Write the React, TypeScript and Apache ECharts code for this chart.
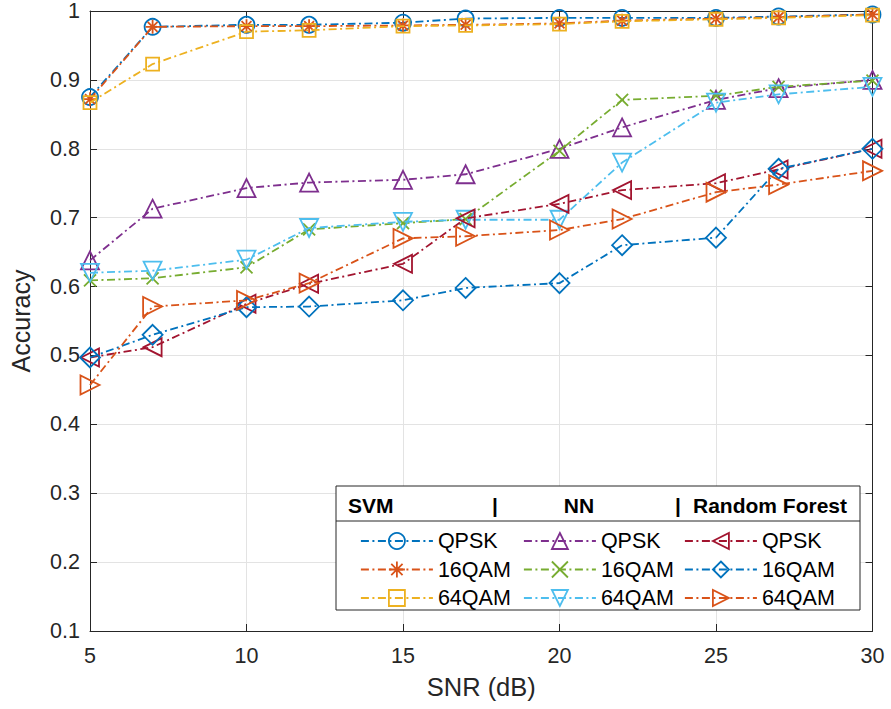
import React, { useEffect, useRef } from 'react';
import * as echarts from 'echarts';

// ---------------- data ----------------
const snr = [5, 7, 10, 12, 15, 17, 20, 22, 25, 27, 30];
const methods = ['SVM', 'NN', 'Random Forest'];
const modulations = ['QPSK', '16QAM', '64QAM'];
const yTicks = [0.1, 0.2, 0.3, 0.4, 0.5, 0.6, 0.7, 0.8, 0.9, 1];
const yTickLabels = ['0.1', '0.2', '0.3', '0.4', '0.5', '0.6', '0.7', '0.8', '0.9', '1'];

const svmQpsk = [0.875, 0.977, 0.98, 0.98, 0.983, 0.989, 0.99, 0.99, 0.99, 0.992, 0.995];
const svm16qam = [0.872, 0.977, 0.978, 0.978, 0.979, 0.98, 0.982, 0.986, 0.989, 0.991, 0.995];
const svm64qam = [0.867, 0.923, 0.97, 0.972, 0.978, 0.979, 0.981, 0.985, 0.988, 0.99, 0.994];
const nnQpsk = [0.638, 0.713, 0.743, 0.751, 0.755, 0.763, 0.8, 0.831, 0.871, 0.888, 0.9];
const nn16qam = [0.609, 0.612, 0.628, 0.683, 0.692, 0.698, 0.797, 0.871, 0.877, 0.89, 0.899];
const nn64qam = [0.62, 0.623, 0.639, 0.685, 0.694, 0.697, 0.697, 0.78, 0.867, 0.879, 0.89];
const rfQpsk = [0.497, 0.512, 0.575, 0.604, 0.633, 0.699, 0.72, 0.74, 0.75, 0.77, 0.8];
const rf16qam = [0.497, 0.53, 0.57, 0.571, 0.58, 0.598, 0.605, 0.66, 0.671, 0.771, 0.8];
const rf64qam = [0.457, 0.571, 0.58, 0.605, 0.67, 0.673, 0.682, 0.698, 0.737, 0.748, 0.768];

const seriesValues = [
  [svmQpsk, svm16qam, svm64qam],
  [nnQpsk, nn16qam, nn64qam],
  [rfQpsk, rf16qam, rf64qam],
];

// ---------------- styles ----------------
const FONT = '"Liberation Sans", Arial, Helvetica, sans-serif';
const AXIS = '#262626';
const ASTERISK = 'path://M0,-10L0,10M-10,0L10,0M-7.07,-7.07L7.07,7.07M-7.07,7.07L7.07,-7.07';
const XMARK = 'path://M-10,-10L10,10M-10,10L10,-10';

const styles = [
  [
    { color: '#0072BD', symbol: 'circle', size: 16, rotate: 0 },
    { color: '#D95319', symbol: ASTERISK, size: 14, rotate: 0 },
    { color: '#EDB120', symbol: 'rect', size: 13, rotate: 0 },
  ],
  [
    { color: '#7E2F8E', symbol: 'triangle', size: 18, rotate: 0 },
    { color: '#77AC30', symbol: XMARK, size: 12, rotate: 0 },
    { color: '#4DBEEE', symbol: 'triangle', size: 18, rotate: 180 },
  ],
  [
    { color: '#A2142F', symbol: 'triangle', size: 18, rotate: 90 },
    { color: '#0072BD', symbol: 'diamond', size: 20, rotate: 0 },
    { color: '#D95319', symbol: 'triangle', size: 19, rotate: -90 },
  ],
];

const DASH = [8, 3.5, 2, 3.5];
const LW = 1.8;

export default function App() {
  const ref = useRef<HTMLDivElement>(null);

  useEffect(() => {
    if (!ref.current) return;
    const chart = echarts.init(ref.current, undefined, { renderer: 'svg' });

    const series: any[] = [];
    const legends: any[] = [];
    const legendLeft = [360, 523, 684];

    methods.forEach((m, mi) => {
      const names: string[] = [];
      modulations.forEach((mod, k) => {
        const st = styles[mi][k];
        const name = m + '|' + mod;
        names.push(name);
        series.push({
          type: 'line',
          name,
          data: snr.map((x, i) => [x, seriesValues[mi][k][i]]),
          symbol: st.symbol,
          symbolSize: st.size,
          symbolRotate: st.rotate,
          showAllSymbol: true,
          lineStyle: { color: st.color, width: LW, type: DASH },
          itemStyle: { color: 'none', borderColor: st.color, borderWidth: LW },
          emphasis: { disabled: true },
          z: 2 + mi * 3 + k,
        });
      });
      legends.push({
        data: names,
        orient: 'vertical',
        left: legendLeft[mi],
        top: 530,
        padding: 0,
        itemWidth: 72,
        itemHeight: 20,
        itemGap: 6.5,
        selectedMode: false,
        formatter: (n: string) => n.split('|')[1],
        textStyle: { fontFamily: FONT, fontSize: 21.5, color: '#000', lineHeight: 21 },
        lineStyle: { width: LW },
        itemStyle: { borderWidth: LW },
        z: 6,
      });
    });

    const headerStyle = { fontFamily: FONT, fontSize: 21, fontWeight: 'bold', fill: '#000' };

    const option: any = {
      animation: false,
      backgroundColor: '#fff',
      grid: { left: 86, right: 18.5, top: 9.5, bottom: 78, containLabel: false },
      xAxis: [
        {
          type: 'value',
          min: 5,
          max: 30,
          interval: 5,
          name: 'SNR (dB)',
          nameLocation: 'middle',
          nameGap: 43,
          nameTextStyle: { fontFamily: FONT, fontSize: 25.5, color: AXIS },
          axisLine: { show: true, onZero: false, lineStyle: { color: AXIS, width: 1 } },
          axisTick: { show: true, inside: true, length: 7, lineStyle: { color: AXIS } },
          axisLabel: { fontFamily: FONT, fontSize: 21.5, color: AXIS, margin: 14 },
          splitLine: { show: true, lineStyle: { color: '#e3e3e3', width: 1 } },
        },
        {
          type: 'value',
          position: 'top',
          min: 5,
          max: 30,
          interval: 5,
          axisLine: { show: true, onZero: false, lineStyle: { color: AXIS, width: 1 } },
          axisTick: { show: true, inside: true, length: 7, lineStyle: { color: AXIS } },
          axisLabel: { show: false },
          splitLine: { show: false },
        },
      ],
      yAxis: [
        {
          type: 'value',
          min: 0.1,
          max: 1,
          interval: 0.1,
          name: 'Accuracy',
          nameLocation: 'middle',
          nameGap: 57,
          nameRotate: 90,
          nameTextStyle: { fontFamily: FONT, fontSize: 25, color: AXIS },
          axisLine: { show: true, onZero: false, lineStyle: { color: AXIS, width: 1 } },
          axisTick: { show: true, inside: true, length: 7, lineStyle: { color: AXIS } },
          axisLabel: {
            fontFamily: FONT,
            fontSize: 21.5,
            color: AXIS,
            margin: 10,
            formatter: (v: number) => {
              const idx = yTicks.findIndex((t) => Math.abs(t - v) < 1e-6);
              return idx >= 0 ? yTickLabels[idx] : '';
            },
          },
          splitLine: { show: true, lineStyle: { color: '#e3e3e3', width: 1 } },
        },
        {
          type: 'value',
          position: 'right',
          min: 0.1,
          max: 1,
          interval: 0.1,
          axisLine: { show: true, onZero: false, lineStyle: { color: AXIS, width: 1 } },
          axisTick: { show: true, inside: true, length: 7, lineStyle: { color: AXIS } },
          axisLabel: { show: false },
          splitLine: { show: false },
        },
      ],
      legend: legends,
      series,
      graphic: [
        {
          type: 'rect',
          z: 3,
          shape: { x: 336, y: 486, width: 524, height: 124 },
          style: { fill: '#fff', stroke: AXIS, lineWidth: 1 },
        },
        {
          type: 'line',
          z: 5,
          shape: { x1: 336, y1: 521, x2: 860, y2: 521 },
          style: { stroke: AXIS, lineWidth: 1 },
        },
        { type: 'text', z: 5, x: 348, y: 505, style: { ...headerStyle, text: methods[0], verticalAlign: 'middle' } },
        { type: 'text', z: 5, x: 495, y: 505, style: { ...headerStyle, text: '|', align: 'center', verticalAlign: 'middle' } },
        { type: 'text', z: 5, x: 579, y: 505, style: { ...headerStyle, text: methods[1], align: 'center', verticalAlign: 'middle' } },
        { type: 'text', z: 5, x: 678, y: 505, style: { ...headerStyle, text: '|', align: 'center', verticalAlign: 'middle' } },
        { type: 'text', z: 5, x: 693, y: 505, style: { ...headerStyle, text: methods[2], verticalAlign: 'middle' } },
      ],
    };

    chart.setOption(option);
    return () => chart.dispose();
  }, []);

  return (
    <div
      ref={ref}
      style={{ position: 'fixed', left: 0, top: 0, width: 891, height: 709, background: '#fff' }}
    />
  );
}
